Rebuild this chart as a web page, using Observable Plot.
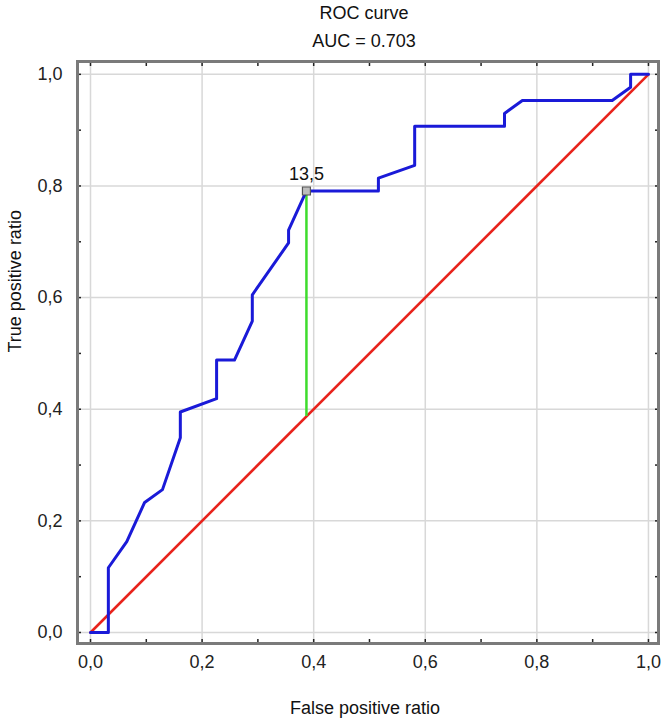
<!DOCTYPE html>
<html>
<head>
<meta charset="utf-8">
<script src="https://cdn.jsdelivr.net/npm/d3@7"></script>
<script src="https://cdn.jsdelivr.net/npm/@observablehq/plot@0.6"></script>
<style>
  html, body { margin: 0; padding: 0; background: #fff; }
  #chart svg { display: block; }
</style>
</head>
<body>
<div id="chart"></div>
<script>
// ROC curve points (false positive ratio, true positive ratio)
const fpr = [0, 0.032, 0.032, 0.065, 0.097, 0.129, 0.161, 0.161, 0.226, 0.226, 0.258, 0.290, 0.290, 0.355, 0.355, 0.387, 0.516, 0.516, 0.581, 0.581, 0.742, 0.742, 0.774, 0.935, 0.968, 0.968, 1.0];
const tpr = [0, 0, 0.116, 0.163, 0.233, 0.256, 0.349, 0.395, 0.419, 0.488, 0.488, 0.558, 0.605, 0.698, 0.721, 0.791, 0.791, 0.814, 0.837, 0.907, 0.907, 0.930, 0.953, 0.953, 0.977, 1.0, 1.0];
// reference diagonal
const diagX = [0, 1];
const diagY = [0, 1];
// optimal cut-off
const cutoffLabel = "13,5";
const cutoffFpr = 0.387;
const cutoffTpr = 0.791;
// ticks
const majorTicks = [0, 0.2, 0.4, 0.6, 0.8, 1.0];
const minorTicks = [0, 0.1, 0.2, 0.3, 0.4, 0.5, 0.6, 0.7, 0.8, 0.9, 1.0];
const titleText = "ROC curve";
const subtitleText = "AUC = 0.703";
const xLabel = "False positive ratio";
const yLabel = "True positive ratio";

const curve = fpr.map((x, i) => ({x, y: tpr[i]}));
const diag = diagX.map((x, i) => ({x, y: diagY[i]}));
const cutoff = [{x: cutoffFpr, y: cutoffTpr, y0: cutoffFpr, label: cutoffLabel}];
const fmt = d => d.toFixed(1).replace(".", ",");

const FONT = "Liberation Sans, Arial, sans-serif";

const plot = Plot.plot({
  width: 666,
  height: 725,
  marginTop: 61,
  marginBottom: 82,
  marginLeft: 77,
  marginRight: 8,
  style: {fontFamily: FONT, fontSize: "18px", color: "#222", background: "#fff"},
  x: {domain: [-0.0233, 1.018]},
  y: {domain: [-0.0197, 1.023]},
  marks: [
    Plot.gridX(majorTicks, {stroke: "#d8d8d8", strokeOpacity: 1, strokeWidth: 1.5}),
    Plot.gridY(majorTicks, {stroke: "#d8d8d8", strokeOpacity: 1, strokeWidth: 1.5}),
    // inward tick marks on all four sides
    Plot.axisX(minorTicks, {anchor: "bottom", tickSize: -4, tickFormat: () => "", stroke: "#222", strokeWidth: 1.5, label: null}),
    Plot.axisX(minorTicks, {anchor: "top", tickSize: -4, tickFormat: () => "", stroke: "#222", strokeWidth: 1.5, label: null}),
    Plot.axisY(minorTicks, {anchor: "left", tickSize: -4, tickFormat: () => "", stroke: "#222", strokeWidth: 1.5, label: null}),
    Plot.axisY(minorTicks, {anchor: "right", tickSize: -4, tickFormat: () => "", stroke: "#222", strokeWidth: 1.5, label: null}),
    // tick labels
    Plot.axisX(majorTicks, {anchor: "bottom", tickSize: 0, tickPadding: 12, tickFormat: fmt, label: null, fill: "#222", fontSize: 18}),
    Plot.axisY(majorTicks, {anchor: "left", tickSize: 0, tickPadding: 15, tickFormat: fmt, label: null, fill: "#222", fontSize: 18}),
    // diagonal
    Plot.line(diag, {x: "x", y: "y", stroke: "#e8231c", strokeWidth: 2.6}),
    // cutoff distance line
    Plot.ruleX(cutoff, {x: "x", y1: "y0", y2: "y", stroke: "#3ddc2c", strokeWidth: 2.5}),
    // ROC curve
    Plot.line(curve, {x: "x", y: "y", stroke: "#1a1ad8", strokeWidth: 3, curve: "linear"}),
    // cutoff marker
    Plot.dot(cutoff, {x: "x", y: "y", symbol: "square", r: 4.5, stroke: "#555", strokeWidth: 1.2, fill: "#bdbdbd"}),
    Plot.text(cutoff, {x: "x", y: "y", text: "label", dy: -17, fontSize: 18, fill: "#111"}),
    // frame
    Plot.frame({stroke: "#7a7a7a", strokeWidth: 3}),
    // titles & axis labels
    Plot.text([titleText], {frameAnchor: "top", dy: -55, dx: -4, fontSize: 18, fill: "#111"}),
    Plot.text([subtitleText], {frameAnchor: "top", dy: -27, dx: -4, fontSize: 18, fill: "#111"}),
    Plot.text([xLabel], {frameAnchor: "bottom", dy: 70, dx: -3, fontSize: 18, fill: "#111"}),
    Plot.text([yLabel], {frameAnchor: "left", dx: -62, rotate: -90, fontSize: 18, fill: "#111"})
  ]
});
document.getElementById("chart").appendChild(plot);
</script>
</body>
</html>
